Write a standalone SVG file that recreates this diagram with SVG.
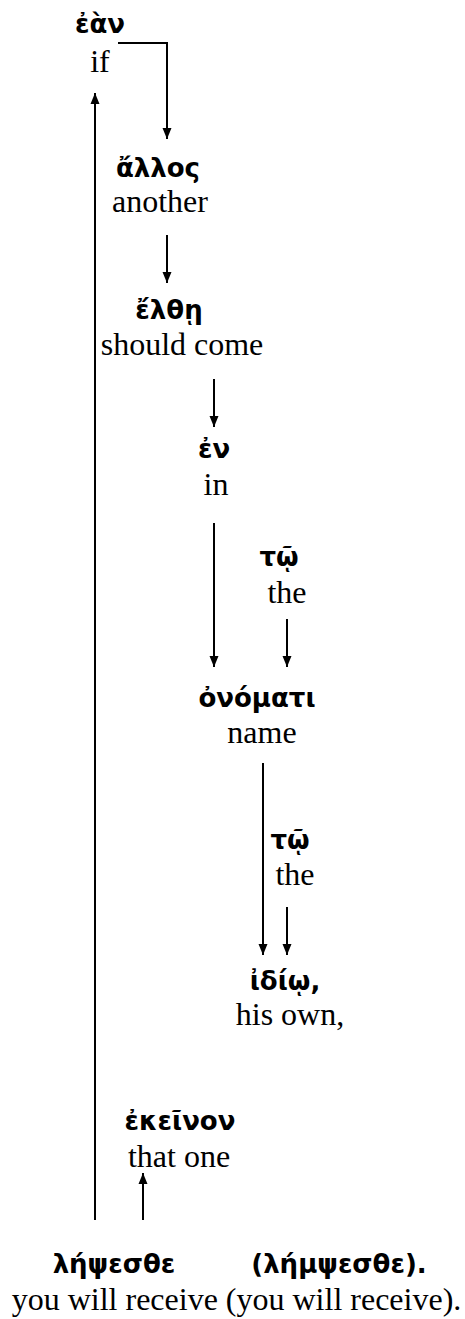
<svg xmlns="http://www.w3.org/2000/svg" width="465" height="1319" viewBox="0 0 465 1319">
<defs>
<marker id="ah" viewBox="0 0 11 10" refX="11" refY="5" markerWidth="11" markerHeight="10" markerUnits="userSpaceOnUse" orient="auto">
<path d="M0,0.5 L11,5 L0,9.5 Z" fill="#000"/>
</marker>
<style>
.gr{font-family:"DejaVu Sans","Noto Sans",sans-serif;font-weight:bold;font-size:26px;fill:#000;text-anchor:middle}
.en{font-family:"Liberation Serif","Times New Roman",serif;font-size:32px;fill:#000;text-anchor:middle}
.ar{stroke:#000;stroke-width:2;fill:none;marker-end:url(#ah)}
</style>
</defs>
<rect width="465" height="1319" fill="#fff"/>
<g id="n-ean"><text class="gr" x="100" y="33">ἐὰν</text><text class="en" x="100" y="72">if</text></g>
<g id="n-allos"><text class="gr" x="158" y="177">ἄλλος</text><text class="en" x="160" y="212">another</text></g>
<g id="n-elthe"><text class="gr" x="169" y="319">ἔλθῃ</text><text class="en" x="182" y="355">should come</text></g>
<g id="n-en"><text class="gr" x="214" y="458">ἐν</text><text class="en" x="216" y="495">in</text></g>
<g id="n-to1"><text class="gr" x="279" y="566">τῷ</text><text class="en" x="287" y="603">the</text></g>
<g id="n-onomati"><text class="gr" x="257" y="707">ὀνόματι</text><text class="en" x="262" y="743">name</text></g>
<g id="n-to2"><text class="gr" x="290" y="849">τῷ</text><text class="en" x="295" y="885">the</text></g>
<g id="n-idio"><text class="gr" x="285" y="990">ἰδίῳ,</text><text class="en" x="290" y="1025">his own,</text></g>
<g id="n-ekeinon"><text class="gr" x="180" y="1130">ἐκεῖνον</text><text class="en" x="179" y="1167">that one</text></g>
<g id="n-lempsesthe"><text class="gr" x="114" y="1273">λήψεσθε</text><text class="gr" x="339" y="1273">(λήμψεσθε).</text><text class="en" x="236.5" y="1310">you will receive (you will receive).</text></g>
<g id="connectors">
<path class="ar" d="M118,43 H167 V139"/>
<path class="ar" d="M167,235 V283"/>
<path class="ar" d="M214,379 V427"/>
<path class="ar" d="M214,523 V667"/>
<path class="ar" d="M287,619 V667"/>
<path class="ar" d="M263,763 V955"/>
<path class="ar" d="M287,907 V955"/>
<path class="ar" d="M143,1220 V1173"/>
<path class="ar" d="M95,1220 V93"/>
</g>
</svg>
